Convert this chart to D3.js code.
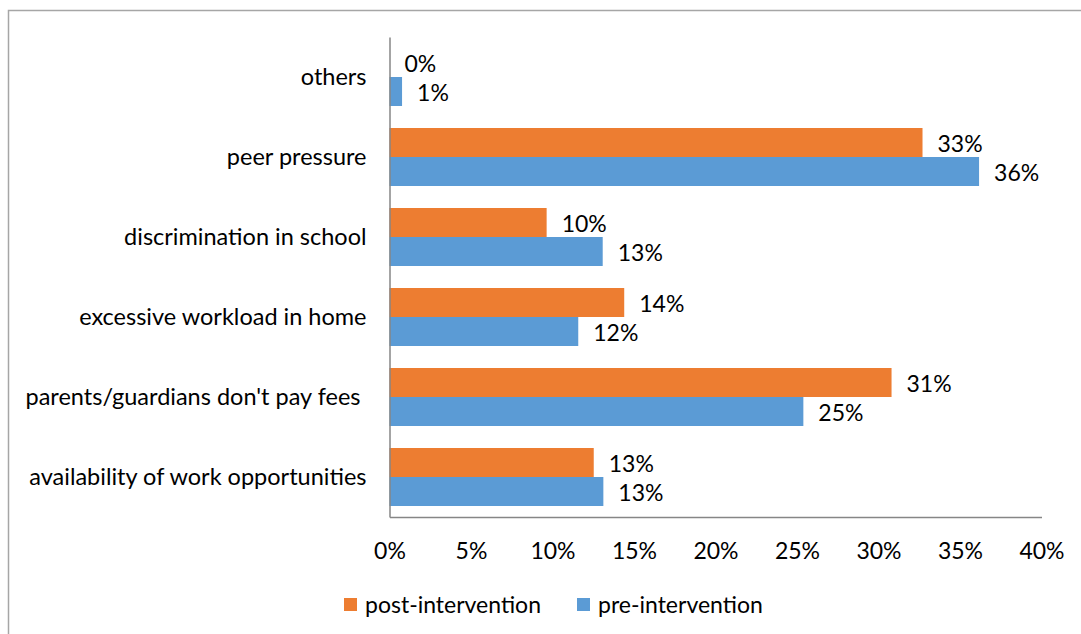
<!DOCTYPE html>
<html>
<head>
<meta charset="utf-8">
<script src="https://cdn.jsdelivr.net/npm/d3@7"></script>
<style>
  html, body { margin: 0; padding: 0; background: #fff; }
  svg { display: block; }
  text { font-family: Lato, "Open Sans", sans-serif; fill: #000; white-space: pre; }
</style>
</head>
<body>
<svg id="chart" width="1081" height="634"></svg>
<script>
// Reasons for dropping out, before and after the intervention (share of respondents)
const categories = [
  "others",
  "peer pressure",
  "discrimination in school",
  "excessive workload in home",
  "parents/guardians don't pay fees ",
  "availability of work opportunities"
];
const postIntervention = [0.0, 0.327, 0.0964, 0.144, 0.308, 0.1253];
const preIntervention  = [0.0077, 0.3617, 0.1308, 0.1158, 0.2539, 0.1312];
const xTicks = [0, 0.05, 0.10, 0.15, 0.20, 0.25, 0.30, 0.35, 0.40];
const seriesNames = ["post-intervention", "pre-intervention"];
const seriesColors = ["#ED7D31", "#5B9BD5"];

const svg = d3.select("#chart");
const fontSize = 23;

// chart frame
svg.append("path")
  .attr("d", "M8.5,634 L8.5,10.5 L1081,10.5")
  .attr("fill", "none")
  .attr("stroke", "#a6a6a6")
  .attr("stroke-width", 1.5);

const plot = { left: 389.5, right: 1041.5, top: 37, bottom: 517 };

const x = d3.scaleLinear().domain([0, 0.40]).range([plot.left, plot.right]);
const y = d3.scaleBand().domain(categories).range([plot.top, plot.bottom]).paddingInner(0.275).paddingOuter(0.1375);
const sub = d3.scaleBand().domain(seriesNames).range([0, y.bandwidth()]);

const rows = categories.map((c, i) => ({
  cat: c,
  values: [
    { series: seriesNames[0], v: postIntervention[i], color: seriesColors[0] },
    { series: seriesNames[1], v: preIntervention[i], color: seriesColors[1] }
  ]
}));

const group = svg.append("g").selectAll("g.row")
  .data(rows).join("g")
  .attr("class", "row")
  .attr("transform", d => `translate(0,${y(d.cat)})`);

group.selectAll("rect")
  .data(d => d.values).join("rect")
  .attr("x", x(0))
  .attr("y", d => sub(d.series))
  .attr("width", d => x(d.v) - x(0))
  .attr("height", sub.bandwidth())
  .attr("fill", d => d.color);

const pct = d3.format(".0%");
group.selectAll("text.val")
  .data(d => d.values).join("text")
  .attr("class", "val")
  .attr("x", d => x(d.v) + 15)
  .attr("y", d => sub(d.series) + sub.bandwidth() / 2 + 1)
  .attr("dy", "0.35em")
  .attr("font-size", fontSize)
  .text(d => pct(d.v));

// category axis
const yAxis = svg.append("g")
  .attr("transform", `translate(${plot.left},0)`)
  .call(d3.axisLeft(y).tickSize(0).tickPadding(23));
yAxis.select(".domain").attr("stroke", "#868686").attr("stroke-width", 1.5);
yAxis.selectAll("text").attr("font-size", 23.5).attr("font-family", "Lato, sans-serif").attr("fill", "#000");

// value axis
const xAxis = svg.append("g")
  .attr("transform", `translate(0,${plot.bottom})`)
  .call(d3.axisBottom(x).tickValues(xTicks).tickFormat(pct).tickSize(0));
xAxis.select(".domain").attr("stroke", "#868686").attr("stroke-width", 1.5);
xAxis.selectAll("text")
  .attr("y", 34).attr("dy", "0.35em")
  .attr("font-size", fontSize).attr("font-family", "Lato, sans-serif").attr("fill", "#000");

// legend
const legendX = [344, 577];
const legend = svg.append("g").selectAll("g")
  .data(seriesNames).join("g")
  .attr("transform", (d, i) => `translate(${legendX[i]},598)`);
legend.append("rect")
  .attr("width", 13).attr("height", 13)
  .attr("fill", (d, i) => seriesColors[i]);
legend.append("text")
  .attr("x", 21).attr("y", 6.5).attr("dy", "0.35em")
  .attr("font-size", fontSize)
  .text(d => d);
</script>
</body>
</html>
